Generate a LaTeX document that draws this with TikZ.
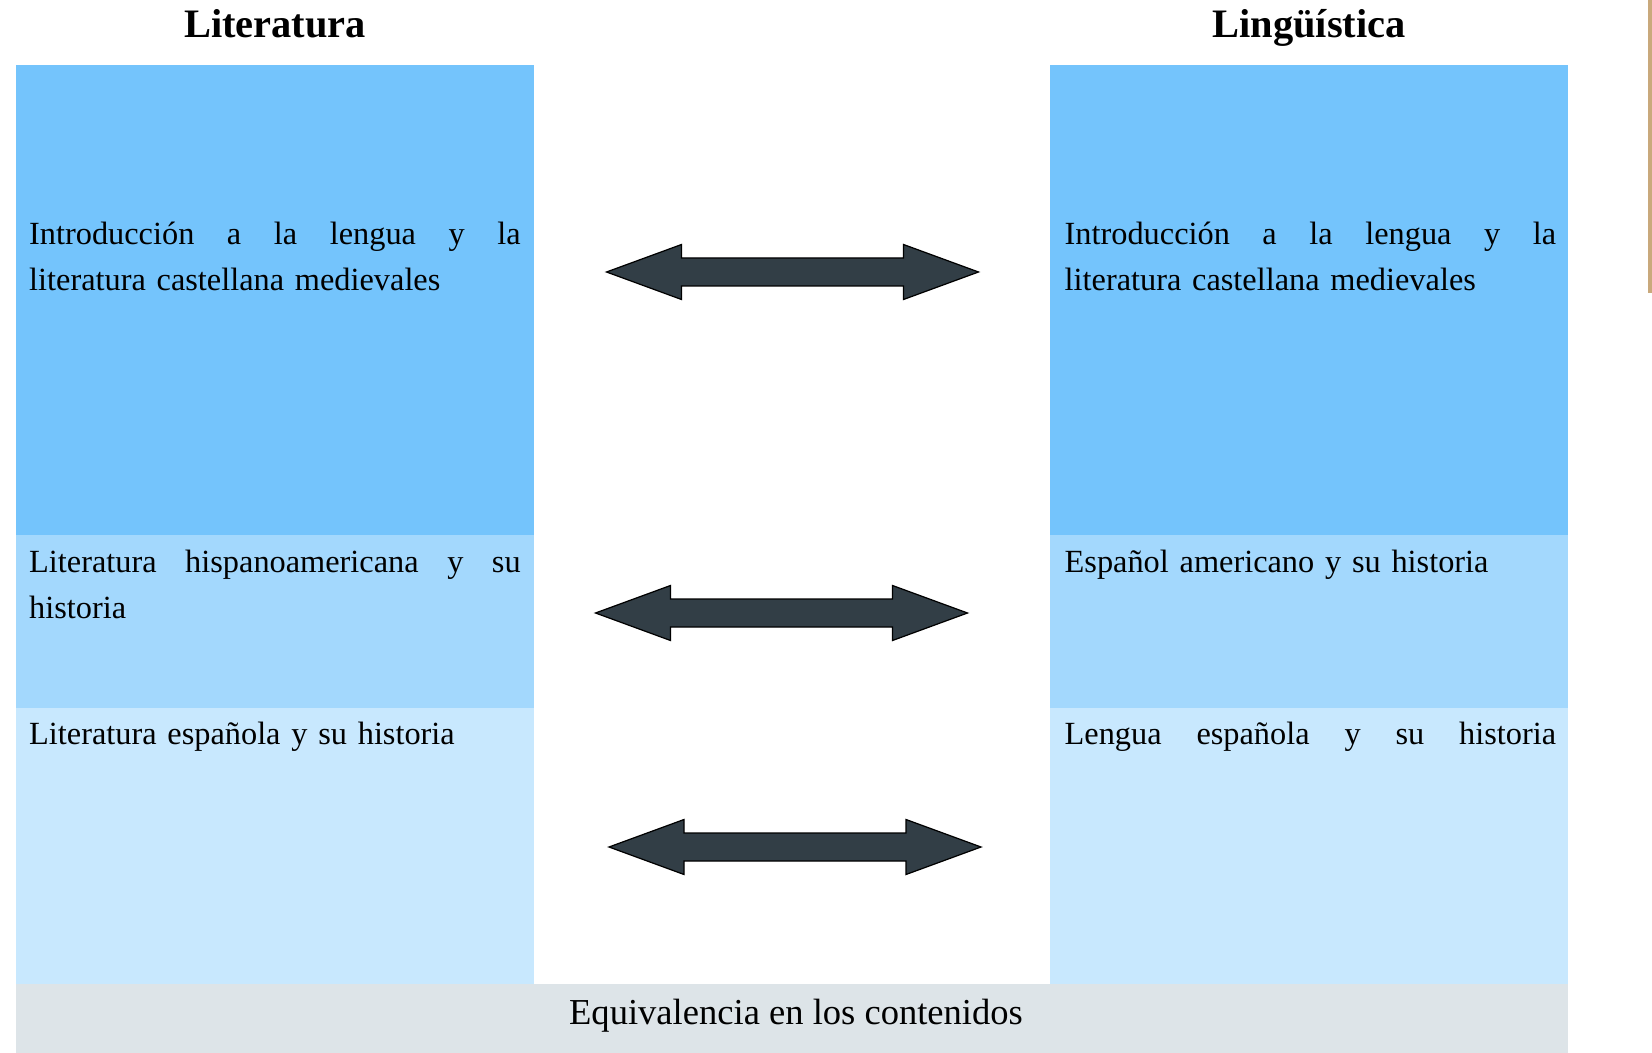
\documentclass[tikz,border=0pt]{standalone}
\usepackage{fontspec}
\setmainfont{Liberation Serif}

\definecolor{topblue}{HTML}{74C4FC}
\definecolor{midblue}{HTML}{A3D8FD}
\definecolor{lowblue}{HTML}{C8E8FE}
\definecolor{bargray}{HTML}{DDE4E8}
\definecolor{arrowgray}{HTML}{323E46}
\definecolor{edgetan}{HTML}{C9A97C}

\newcommand{\fullline}[1]{\hbox to 49.15mm{#1}}

\tikzset{
  cell/.style={anchor=base west, inner sep=0pt, text width=49.15mm, align=left,
    font=\fontsize{9.2}{13.2}\selectfont},
  heading/.style={anchor=base, inner sep=0pt, font=\bfseries\fontsize{11.5}{14}\selectfont},
  biarrow/.style={fill=arrowgray, draw=black, line width=0.35pt, line join=miter}
}

\begin{document}
\begin{tikzpicture}[x=0.1mm, y=-0.1mm]
        \useasboundingbox (0,0) rectangle (1652,1053);

        % Column headings
        \node[heading] (litTitle) at (275,38) {Literatura};
        \node[heading] (linTitle) at (1309,37.5) {Lingüística};

        % Left column: Literatura
        \fill[topblue] (16,65) rectangle (534,535);
        \fill[midblue] (16,535) rectangle (534,708);
        \fill[lowblue] (16,708) rectangle (534,984);

        % Right column: Lingüística
        \fill[topblue] (1050,65) rectangle (1568,535);
        \fill[midblue] (1050,535) rectangle (1568,708);
        \fill[lowblue] (1050,708) rectangle (1568,984);

        % Bottom bar
        \fill[bargray] (16,984) rectangle (1568,1053);

        % Thin edge on the right
        \fill[edgetan] (1648,0) rectangle (1652,293);

        % Texts of the cells
        \node[cell] (litA) at (28.5,244.5)
          {\fullline{Introducción\hfill a\hfill la\hfill lengua\hfill y\hfill la}\\literatura castellana medievales};
        \node[cell] (litB) at (28.5,572)
          {\fullline{Literatura\hfill hispanoamericana\hfill y\hfill su}\\historia};
        \node[cell] (litC) at (28.5,744) {Literatura española y su historia};

        \node[cell] (linA) at (1064,244.5)
          {\fullline{Introducción\hfill a\hfill la\hfill lengua\hfill y\hfill la}\\literatura castellana medievales};
        \node[cell] (linB) at (1064,572) {Español americano y su historia};
        \node[cell] (linC) at (1064,744) {\fullline{Lengua\hfill española\hfill y\hfill su\hfill historia}};

        \node[anchor=base, inner sep=0pt, font=\fontsize{10.4}{13}\selectfont] (equiv) at (796,1024.5)
          {Equivalencia en los contenidos};

        % Double arrows between the columns
        \foreach \name/\cx/\cy in {arrA/792.5/272, arrB/781.5/613, arrC/795/847} {
          \coordinate (\name) at (\cx,\cy);
          \draw[biarrow] (\name) ++(-186,0) -- ++(75,-27.5) -- ++(0,13.5) -- ++(222,0)
            -- ++(0,-13.5) -- ++(75,27.5) -- ++(-75,27.5) -- ++(0,-13.5)
            -- ++(-222,0) -- ++(0,13.5) -- cycle;
        }
    \end{tikzpicture}
\end{document}
